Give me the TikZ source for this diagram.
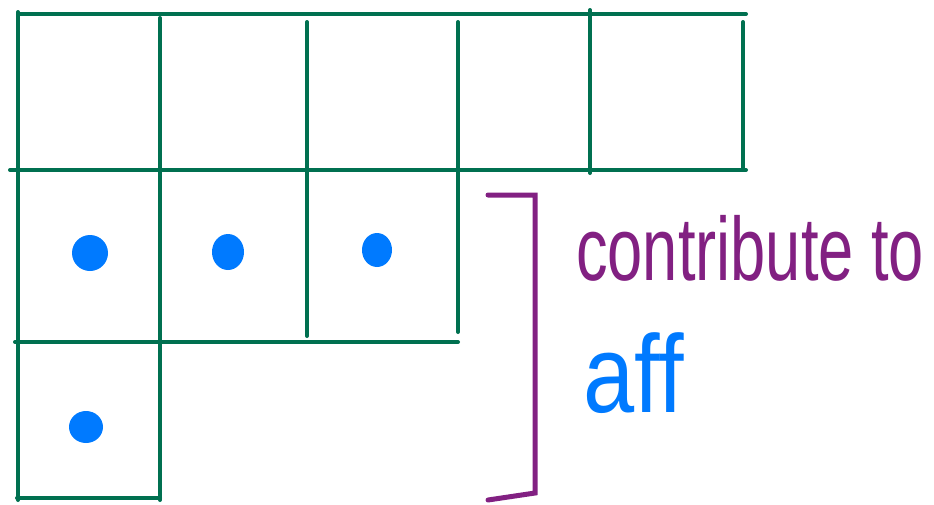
\documentclass[tikz,border=0pt]{standalone}
\usepackage{fontspec}
\setmainfont{Liberation Sans}
\definecolor{gridgreen}{RGB}{0,112,80}
\definecolor{bracketpurple}{RGB}{130,32,130}
\definecolor{dotblue}{RGB}{0,122,255}
\begin{document}
\begin{tikzpicture}[x=1pt,y=-1pt,
  gridline/.style={draw=gridgreen,line width=4pt,line cap=round},
  dotmark/.style={fill=dotblue,draw=none},
  bracketline/.style={draw=bracketpurple,line width=5pt,line cap=round,line join=miter},
  purpletext/.style={text=bracketpurple,inner sep=0pt,anchor=base west},
  bluetext/.style={text=dotblue,inner sep=0pt,anchor=base west}]
\useasboundingbox (0,0) rectangle (934,504);
% grid corner coordinates
\coordinate (t0) at (18,14);   \coordinate (t5) at (746,14);
\coordinate (m0) at (10,170);  \coordinate (m5) at (746,170);
\coordinate (n0) at (15,342);  \coordinate (n3) at (458,342);
\coordinate (b0) at (17,498);  \coordinate (b1) at (160,498);
% horizontal lines
\draw[gridline] (t0) -- (t5);
\draw[gridline] (m0) -- (m5);
\draw[gridline] (n0) -- (n3);
\draw[gridline] (b0) -- (b1);
% vertical lines
\draw[gridline] (18,12) -- (18,500);
\draw[gridline] (160,18) -- (160,500);
\draw[gridline] (307,22) -- (307,336);
\draw[gridline] (458,22) -- (458,332);
\draw[gridline] (590,10) -- (590,173);
\draw[gridline] (743,22) -- (743,168);
% dots
\fill[dotmark] (90,253) ellipse (18 and 18);
\fill[dotmark] (228,252) ellipse (16 and 18);
\fill[dotmark] (377,250) ellipse (15 and 17);
\fill[dotmark] (86,427) ellipse (17 and 16);
% bracket
\coordinate (bt) at (488,195);
\coordinate (btr) at (535,195);
\coordinate (bbr) at (535,493);
\coordinate (bb) at (488,500);
\draw[bracketline] (bt) -- (btr) -- (bbr) -- (bb);
% labels
\node[purpletext] (lab1) at (576,280) {\scalebox{1.02}[1.45]{\fontsize{62}{62}\selectfont contribute to}};
\node[bluetext] (lab2) at (583,412) {\scalebox{1}[1.2]{\fontsize{92}{92}\selectfont aff}};
\end{tikzpicture}
\end{document}
